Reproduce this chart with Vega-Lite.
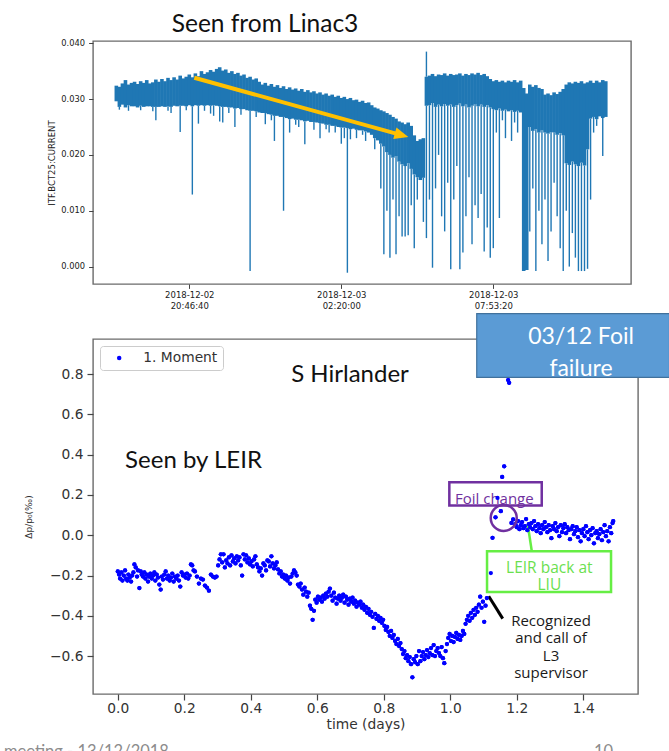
{
  "$schema": "https://vega.github.io/schema/vega-lite/v6.json",
  "usermeta": {"embedOptions": {"actions": false}},
  "background": "white",
  "padding": {"left": 3, "top": 11, "right": 0, "bottom": 0},
  "bounds": "flush",
  "spacing": 55,
  "resolve": {"legend": {"color": "independent"}},
  "config": {
    "view": {"stroke": "#6b6b6b", "strokeWidth": 1.4},
    "axis": {
      "domain": false, "grid": false,
      "labelFont": "DejaVu Sans", "titleFont": "DejaVu Sans", "titleFontWeight": "normal",
      "tickColor": "#444444", "labelColor": "#333333", "titleColor": "#333333"
    }
  },
  "vconcat": [
    {
      "width": 538,
      "height": 243,
      "data": {"values": [
        {"t":"2018-12-02T18:06:40Z","hi":0.0324,"lo":0.0296},
        {"t":"2018-12-02T18:13:20Z","hi":0.0322,"lo":0.0286,"dip":0.0281},
        {"t":"2018-12-02T18:20:00Z","hi":0.0328,"lo":0.0290},
        {"t":"2018-12-02T18:26:40Z","hi":0.0334,"lo":0.0285},
        {"t":"2018-12-02T18:33:20Z","hi":0.0326,"lo":0.0289,"dip":0.0279},
        {"t":"2018-12-02T18:40:00Z","hi":0.0329,"lo":0.0287},
        {"t":"2018-12-02T18:46:40Z","hi":0.0331,"lo":0.0287},
        {"t":"2018-12-02T18:53:20Z","hi":0.0327,"lo":0.0285},
        {"t":"2018-12-02T19:00:00Z","hi":0.0332,"lo":0.0288,"dip":0.0280},
        {"t":"2018-12-02T19:06:40Z","hi":0.0329,"lo":0.0286},
        {"t":"2018-12-02T19:13:20Z","hi":0.0334,"lo":0.0287},
        {"t":"2018-12-02T19:20:00Z","hi":0.0328,"lo":0.0287},
        {"t":"2018-12-02T19:26:40Z","hi":0.0330,"lo":0.0286,"dip":0.0278},
        {"t":"2018-12-02T19:33:20Z","hi":0.0335,"lo":0.0286,"dip":0.0262},
        {"t":"2018-12-02T19:40:00Z","hi":0.0331,"lo":0.0286},
        {"t":"2018-12-02T19:46:40Z","hi":0.0336,"lo":0.0287},
        {"t":"2018-12-02T19:53:20Z","hi":0.0332,"lo":0.0286},
        {"t":"2018-12-02T20:00:00Z","hi":0.0338,"lo":0.0287,"dip":0.0279},
        {"t":"2018-12-02T20:06:40Z","hi":0.0334,"lo":0.0286,"dip":0.0275},
        {"t":"2018-12-02T20:13:20Z","hi":0.0339,"lo":0.0288},
        {"t":"2018-12-02T20:20:00Z","hi":0.0335,"lo":0.0287},
        {"t":"2018-12-02T20:26:40Z","hi":0.0342,"lo":0.0288,"dip":0.0241},
        {"t":"2018-12-02T20:33:20Z","hi":0.0337,"lo":0.0288},
        {"t":"2018-12-02T20:40:00Z","hi":0.0340,"lo":0.0287,"dip":0.0280},
        {"t":"2018-12-02T20:46:40Z","hi":0.0344,"lo":0.0289},
        {"t":"2018-12-02T20:53:20Z","hi":0.0339,"lo":0.0287,"dip":0.0129},
        {"t":"2018-12-02T21:00:00Z","hi":0.0346,"lo":0.0289},
        {"t":"2018-12-02T21:06:40Z","hi":0.0341,"lo":0.0288,"dip":0.0256},
        {"t":"2018-12-02T21:13:20Z","hi":0.0350,"lo":0.0289},
        {"t":"2018-12-02T21:20:00Z","hi":0.0345,"lo":0.0288,"dip":0.0279},
        {"t":"2018-12-02T21:26:40Z","hi":0.0348,"lo":0.0289},
        {"t":"2018-12-02T21:33:20Z","hi":0.0352,"lo":0.0288,"dip":0.0274},
        {"t":"2018-12-02T21:40:00Z","hi":0.0349,"lo":0.0289,"dip":0.0270},
        {"t":"2018-12-02T21:46:40Z","hi":0.0354,"lo":0.0288},
        {"t":"2018-12-02T21:53:20Z","hi":0.0357,"lo":0.0287,"dip":0.0260},
        {"t":"2018-12-02T22:00:00Z","hi":0.0351,"lo":0.0286,"dip":0.0258},
        {"t":"2018-12-02T22:06:40Z","hi":0.0353,"lo":0.0286},
        {"t":"2018-12-02T22:13:20Z","hi":0.0347,"lo":0.0285,"dip":0.0275},
        {"t":"2018-12-02T22:20:00Z","hi":0.0350,"lo":0.0285},
        {"t":"2018-12-02T22:26:40Z","hi":0.0345,"lo":0.0283,"dip":0.0250},
        {"t":"2018-12-02T22:33:20Z","hi":0.0347,"lo":0.0284},
        {"t":"2018-12-02T22:40:00Z","hi":0.0342,"lo":0.0282,"dip":0.0272},
        {"t":"2018-12-02T22:46:40Z","hi":0.0344,"lo":0.0282},
        {"t":"2018-12-02T22:53:20Z","hi":0.0338,"lo":0.0280},
        {"t":"2018-12-02T23:00:00Z","hi":0.0340,"lo":0.0279,"dip":-0.0008},
        {"t":"2018-12-02T23:06:40Z","hi":0.0335,"lo":0.0279},
        {"t":"2018-12-02T23:13:20Z","hi":0.0337,"lo":0.0278,"dip":0.0268},
        {"t":"2018-12-02T23:20:00Z","hi":0.0331,"lo":0.0276},
        {"t":"2018-12-02T23:26:40Z","hi":0.0326,"lo":0.0275},
        {"t":"2018-12-02T23:33:20Z","hi":0.0329,"lo":0.0275,"dip":0.0255},
        {"t":"2018-12-02T23:40:00Z","hi":0.0324,"lo":0.0273},
        {"t":"2018-12-02T23:46:40Z","hi":0.0327,"lo":0.0272,"dip":0.0262},
        {"t":"2018-12-02T23:53:20Z","hi":0.0322,"lo":0.0270,"dip":0.0225},
        {"t":"2018-12-03T00:00:00Z","hi":0.0325,"lo":0.0270},
        {"t":"2018-12-03T00:06:40Z","hi":0.0320,"lo":0.0268},
        {"t":"2018-12-03T00:13:20Z","hi":0.0323,"lo":0.0268,"dip":0.0100},
        {"t":"2018-12-03T00:20:00Z","hi":0.0318,"lo":0.0266},
        {"t":"2018-12-03T00:26:40Z","hi":0.0321,"lo":0.0264,"dip":0.0240},
        {"t":"2018-12-03T00:33:20Z","hi":0.0317,"lo":0.0265},
        {"t":"2018-12-03T00:40:00Z","hi":0.0319,"lo":0.0263,"dip":0.0254},
        {"t":"2018-12-03T00:46:40Z","hi":0.0315,"lo":0.0263,"dip":0.0250},
        {"t":"2018-12-03T00:53:20Z","hi":0.0318,"lo":0.0262},
        {"t":"2018-12-03T01:00:00Z","hi":0.0313,"lo":0.0260,"dip":0.0219},
        {"t":"2018-12-03T01:06:40Z","hi":0.0316,"lo":0.0261},
        {"t":"2018-12-03T01:13:20Z","hi":0.0312,"lo":0.0259},
        {"t":"2018-12-03T01:20:00Z","hi":0.0314,"lo":0.0259,"dip":0.0245},
        {"t":"2018-12-03T01:26:40Z","hi":0.0310,"lo":0.0258},
        {"t":"2018-12-03T01:33:20Z","hi":0.0312,"lo":0.0257,"dip":0.0230},
        {"t":"2018-12-03T01:40:00Z","hi":0.0308,"lo":0.0256},
        {"t":"2018-12-03T01:46:40Z","hi":0.0310,"lo":0.0254,"dip":0.0246},
        {"t":"2018-12-03T01:53:20Z","hi":0.0306,"lo":0.0254,"dip":0.0240},
        {"t":"2018-12-03T02:00:00Z","hi":0.0308,"lo":0.0252},
        {"t":"2018-12-03T02:06:40Z","hi":0.0304,"lo":0.0252,"dip":0.0240},
        {"t":"2018-12-03T02:13:20Z","hi":0.0306,"lo":0.0250},
        {"t":"2018-12-03T02:20:00Z","hi":0.0302,"lo":0.0249,"dip":0.0220},
        {"t":"2018-12-03T02:26:40Z","hi":0.0304,"lo":0.0249,"dip":0.0230},
        {"t":"2018-12-03T02:33:20Z","hi":0.0300,"lo":0.0248,"dip":-0.0011},
        {"t":"2018-12-03T02:40:00Z","hi":0.0302,"lo":0.0246,"dip":0.0228},
        {"t":"2018-12-03T02:46:40Z","hi":0.0298,"lo":0.0247},
        {"t":"2018-12-03T02:53:20Z","hi":0.0299,"lo":0.0245,"dip":0.0230},
        {"t":"2018-12-03T03:00:00Z","hi":0.0295,"lo":0.0244},
        {"t":"2018-12-03T03:06:40Z","hi":0.0297,"lo":0.0244,"dip":0.0236},
        {"t":"2018-12-03T03:13:20Z","hi":0.0293,"lo":0.0242,"dip":0.0225},
        {"t":"2018-12-03T03:20:00Z","hi":0.0294,"lo":0.0240},
        {"t":"2018-12-03T03:26:40Z","hi":0.0289,"lo":0.0236},
        {"t":"2018-12-03T03:33:20Z","hi":0.0285,"lo":0.0230,"dip":0.0210},
        {"t":"2018-12-03T03:40:00Z","hi":0.0283,"lo":0.0226},
        {"t":"2018-12-03T03:46:40Z","hi":0.0280,"lo":0.0220,"dip":0.0140},
        {"t":"2018-12-03T03:53:20Z","hi":0.0278,"lo":0.0215,"dip":0.0022},
        {"t":"2018-12-03T04:00:00Z","hi":0.0275,"lo":0.0205,"dip":0.0100},
        {"t":"2018-12-03T04:06:40Z","hi":0.0272,"lo":0.0200,"dip":0.0016},
        {"t":"2018-12-03T04:13:20Z","hi":0.0268,"lo":0.0195,"dip":0.0120},
        {"t":"2018-12-03T04:20:00Z","hi":0.0265,"lo":0.0198,"dip":0.0022},
        {"t":"2018-12-03T04:26:40Z","hi":0.0260,"lo":0.0188,"dip":0.0090},
        {"t":"2018-12-03T04:33:20Z","hi":0.0258,"lo":0.0183,"dip":0.0054},
        {"t":"2018-12-03T04:40:00Z","hi":0.0255,"lo":0.0180,"dip":0.0054},
        {"t":"2018-12-03T04:46:40Z","hi":0.0258,"lo":0.0185,"dip":0.0056},
        {"t":"2018-12-03T04:53:20Z","hi":0.0252,"lo":0.0175,"dip":0.0110},
        {"t":"2018-12-03T05:00:00Z","hi":0.0235,"lo":0.0165,"dip":0.0033},
        {"t":"2018-12-03T05:06:40Z","hi":0.0225,"lo":0.0160,"dip":0.0120},
        {"t":"2018-12-03T05:13:20Z","hi":0.0228,"lo":0.0155},
        {"t":"2018-12-03T05:20:00Z","hi":0.0230,"lo":0.0159,"dip":0.0080},
        {"t":"2018-12-03T05:26:40Z","hi":0.0340,"lo":0.0288,"dip":0.0051,"peak":0.0385},
        {"t":"2018-12-03T05:33:20Z","hi":0.0342,"lo":0.0289,"dip":0.0120},
        {"t":"2018-12-03T05:40:00Z","hi":0.0345,"lo":0.0293,"dip":-0.0002},
        {"t":"2018-12-03T05:46:40Z","hi":0.0341,"lo":0.0286,"dip":0.0140},
        {"t":"2018-12-03T05:53:20Z","hi":0.0344,"lo":0.0290,"dip":0.0200},
        {"t":"2018-12-03T06:00:00Z","hi":0.0343,"lo":0.0287,"dip":0.0090},
        {"t":"2018-12-03T06:06:40Z","hi":0.0346,"lo":0.0291,"dip":0.0063},
        {"t":"2018-12-03T06:13:20Z","hi":0.0342,"lo":0.0288,"dip":0.0150},
        {"t":"2018-12-03T06:20:00Z","hi":0.0345,"lo":0.0290,"dip":-0.0005},
        {"t":"2018-12-03T06:26:40Z","hi":0.0343,"lo":0.0286,"dip":0.0120},
        {"t":"2018-12-03T06:33:20Z","hi":0.0344,"lo":0.0289,"dip":0.0180},
        {"t":"2018-12-03T06:40:00Z","hi":0.0346,"lo":0.0292,"dip":-0.0005},
        {"t":"2018-12-03T06:46:40Z","hi":0.0342,"lo":0.0287,"dip":0.0025},
        {"t":"2018-12-03T06:53:20Z","hi":0.0345,"lo":0.0290,"dip":0.0090},
        {"t":"2018-12-03T07:00:00Z","hi":0.0343,"lo":0.0285,"dip":0.0160},
        {"t":"2018-12-03T07:06:40Z","hi":0.0346,"lo":0.0288,"dip":0.0040},
        {"t":"2018-12-03T07:13:20Z","hi":0.0344,"lo":0.0291,"dip":0.0110},
        {"t":"2018-12-03T07:20:00Z","hi":0.0347,"lo":0.0287,"dip":0.0087},
        {"t":"2018-12-03T07:26:40Z","hi":0.0343,"lo":0.0290,"dip":0.0130},
        {"t":"2018-12-03T07:33:20Z","hi":0.0345,"lo":0.0286,"dip":0.0027},
        {"t":"2018-12-03T07:40:00Z","hi":0.0341,"lo":0.0289,"dip":0.0070},
        {"t":"2018-12-03T07:46:40Z","hi":0.0336,"lo":0.0285,"dip":0.0016},
        {"t":"2018-12-03T07:53:20Z","hi":0.0332,"lo":0.0282,"dip":0.0033},
        {"t":"2018-12-03T08:00:00Z","hi":0.0334,"lo":0.0280,"dip":0.0240},
        {"t":"2018-12-03T08:06:40Z","hi":0.0331,"lo":0.0283,"dip":0.0087},
        {"t":"2018-12-03T08:13:20Z","hi":0.0333,"lo":0.0279,"dip":0.0262},
        {"t":"2018-12-03T08:20:00Z","hi":0.0330,"lo":0.0281,"dip":0.0230},
        {"t":"2018-12-03T08:26:40Z","hi":0.0333,"lo":0.0278},
        {"t":"2018-12-03T08:33:20Z","hi":0.0331,"lo":0.0280,"dip":0.0225},
        {"t":"2018-12-03T08:40:00Z","hi":0.0334,"lo":0.0277,"dip":0.0258},
        {"t":"2018-12-03T08:46:40Z","hi":0.0330,"lo":0.0279,"dip":0.0240},
        {"t":"2018-12-03T08:53:20Z","hi":0.0333,"lo":0.0276},
        {"t":"2018-12-03T09:00:00Z","hi":0.0320,"lo":-0.0008},
        {"t":"2018-12-03T09:06:40Z","hi":0.0310,"lo":-0.0006},
        {"t":"2018-12-03T09:13:20Z","hi":0.0326,"lo":0.0250,"dip":0.0063},
        {"t":"2018-12-03T09:20:00Z","hi":0.0322,"lo":0.0243,"dip":0.0140},
        {"t":"2018-12-03T09:26:40Z","hi":0.0325,"lo":0.0246,"dip":-0.0008},
        {"t":"2018-12-03T09:33:20Z","hi":0.0320,"lo":0.0240,"dip":0.0100},
        {"t":"2018-12-03T09:40:00Z","hi":0.0318,"lo":0.0244,"dip":0.0040},
        {"t":"2018-12-03T09:46:40Z","hi":0.0308,"lo":0.0240,"dip":0.0120},
        {"t":"2018-12-03T09:53:20Z","hi":0.0310,"lo":0.0238,"dip":0.0010},
        {"t":"2018-12-03T10:00:00Z","hi":0.0307,"lo":0.0241,"dip":0.0063},
        {"t":"2018-12-03T10:06:40Z","hi":0.0312,"lo":0.0240,"dip":0.0150},
        {"t":"2018-12-03T10:13:20Z","hi":0.0309,"lo":0.0236,"dip":0.0090},
        {"t":"2018-12-03T10:20:00Z","hi":0.0313,"lo":0.0239,"dip":0.0033},
        {"t":"2018-12-03T10:26:40Z","hi":0.0318,"lo":0.0235,"dip":-0.0008},
        {"t":"2018-12-03T10:33:20Z","hi":0.0326,"lo":0.0185,"dip":0.0100},
        {"t":"2018-12-03T10:40:00Z","hi":0.0330,"lo":0.0182,"dip":0.0000},
        {"t":"2018-12-03T10:46:40Z","hi":0.0328,"lo":0.0188,"dip":0.0060},
        {"t":"2018-12-03T10:53:20Z","hi":0.0331,"lo":0.0183,"dip":0.0016},
        {"t":"2018-12-03T11:00:00Z","hi":0.0329,"lo":0.0180,"dip":-0.0008},
        {"t":"2018-12-03T11:06:40Z","hi":0.0332,"lo":0.0186,"dip":-0.0008},
        {"t":"2018-12-03T11:13:20Z","hi":0.0328,"lo":0.0181,"dip":-0.0008},
        {"t":"2018-12-03T11:20:00Z","hi":0.0330,"lo":0.0210,"dip":-0.0004},
        {"t":"2018-12-03T11:26:40Z","hi":0.0333,"lo":0.0265,"dip":0.0120},
        {"t":"2018-12-03T11:33:20Z","hi":0.0329,"lo":0.0268,"dip":0.0240},
        {"t":"2018-12-03T11:40:00Z","hi":0.0333,"lo":0.0264,"dip":0.0252},
        {"t":"2018-12-03T11:46:40Z","hi":0.0330,"lo":0.0269},
        {"t":"2018-12-03T11:53:20Z","hi":0.0334,"lo":0.0266,"dip":0.0198},
        {"t":"2018-12-03T12:00:00Z","hi":0.0332,"lo":0.0268}
      ]},
      "layer": [
        {
          "mark": {"type": "rule", "color": "#1f77b4", "strokeWidth": 3.6},
          "encoding": {
            "x": {
              "field": "t", "type": "temporal",
              "scale": {"type": "utc", "domain": [
                {"year": 2018, "month": 12, "date": 2, "hours": 17, "minutes": 15, "seconds": 29, "utc": true},
                {"year": 2018, "month": 12, "date": 3, "hours": 12, "minutes": 55, "seconds": 18, "utc": true}
              ]},
              "axis": {
                "title": null,
                "values": [
                  {"year": 2018, "month": 12, "date": 2, "hours": 20, "minutes": 46, "seconds": 40, "utc": true},
                  {"year": 2018, "month": 12, "date": 3, "hours": 2, "minutes": 20, "seconds": 0, "utc": true},
                  {"year": 2018, "month": 12, "date": 3, "hours": 7, "minutes": 53, "seconds": 20, "utc": true}
                ],
                "labelExpr": "[utcFormat(datum.value, '%Y-%m-%d'), utcFormat(datum.value, '%H:%M:%S')]",
                "labelFontSize": 8.5, "labelLineHeight": 10.7, "labelPadding": 2,
                "tickSize": 4.4, "labelFlush": false, "labelOverlap": false, "labelColor": "#1a1a1a"
              }
            },
            "y": {
              "field": "hi", "type": "quantitative",
              "scale": {"domain": [-0.00312, 0.0404], "nice": false, "zero": false},
              "axis": {
                "title": "ITF.BCT25:CURRENT", "titleFontSize": 8.5, "titlePadding": 4,
                "values": [0, 0.005, 0.01, 0.015, 0.02, 0.025, 0.03, 0.035, 0.04],
                "format": ".3f", "labelFontSize": 8.3, "labelPadding": 4, "tickSize": 4.4,
                "labelColor": "#1a1a1a", "titleColor": "#1a1a1a"
              }
            },
            "y2": {"field": "lo"}
          }
        },
        {
          "transform": [{"filter": "isValid(datum.dip)"}],
          "mark": {"type": "rule", "color": "#1f77b4", "strokeWidth": 1.4},
          "encoding": {
            "x": {"field": "t", "type": "temporal"},
            "y": {"field": "lo", "type": "quantitative"},
            "y2": {"field": "dip"}
          }
        },
        {
          "transform": [{"filter": "isValid(datum.peak)"}],
          "mark": {"type": "rule", "color": "#1f77b4", "strokeWidth": 1.4},
          "encoding": {
            "x": {"field": "t", "type": "temporal"},
            "y": {"field": "hi", "type": "quantitative"},
            "y2": {"field": "peak"}
          }
        },
        {
          "data": {"values": [{}]},
          "mark": {"type": "rule", "color": "#ffc000", "strokeWidth": 4},
          "encoding": {
            "x": {"datum": {"year": 2018, "month": 12, "date": 2, "hours": 20, "minutes": 57, "seconds": 38, "utc": true}, "type": "temporal"},
            "y": {"datum": 0.03382, "type": "quantitative"},
            "x2": {"datum": {"year": 2018, "month": 12, "date": 3, "hours": 4, "minutes": 32, "seconds": 14, "utc": true}},
            "y2": {"datum": 0.02353}
          }
        },
        {
          "data": {"values": [{}]},
          "mark": {"type": "point", "shape": "M-1,-0.85L1,0L-1,0.85Z", "size": 196, "angle": 15.6, "filled": true, "color": "#ffc000", "opacity": 1},
          "encoding": {
            "x": {"datum": {"year": 2018, "month": 12, "date": 3, "hours": 4, "minutes": 32, "seconds": 14, "utc": true}, "type": "temporal"},
            "y": {"datum": 0.02353, "type": "quantitative"}
          }
        },
        {
          "data": {"values": [{}]},
          "mark": {"type": "text", "text": "Seen from Linac3", "font": "Lato", "fontSize": 24.5, "color": "#111111", "align": "center", "baseline": "alphabetic"},
          "encoding": {
            "x": {"datum": {"year": 2018, "month": 12, "date": 2, "hours": 23, "minutes": 32, "seconds": 41, "utc": true}, "type": "temporal"},
            "y": {"datum": 0.04201, "type": "quantitative"}
          }
        }
      ]
    },
    {
      "width": 545,
      "height": 355,
      "data": {"values": [
        {"t":0.000,"m":-0.180},{"t":0.004,"m":-0.195},{"t":0.007,"m":-0.215},{"t":0.011,"m":-0.185},
        {"t":0.014,"m":-0.225},{"t":0.018,"m":-0.200},{"t":0.022,"m":-0.175},{"t":0.025,"m":-0.215},
        {"t":0.029,"m":-0.225},{"t":0.032,"m":-0.195},{"t":0.036,"m":-0.210},{"t":0.040,"m":-0.230},
        {"t":0.043,"m":-0.200},{"t":0.047,"m":-0.185},{"t":0.050,"m":-0.145},{"t":0.054,"m":-0.160},
        {"t":0.058,"m":-0.205},{"t":0.061,"m":-0.175},{"t":0.065,"m":-0.262},{"t":0.069,"m":-0.180},
        {"t":0.072,"m":-0.195},{"t":0.076,"m":-0.205},{"t":0.080,"m":-0.185},{"t":0.083,"m":-0.215},
        {"t":0.087,"m":-0.195},{"t":0.091,"m":-0.230},{"t":0.094,"m":-0.205},{"t":0.098,"m":-0.190},
        {"t":0.102,"m":-0.215},{"t":0.106,"m":-0.200},{"t":0.110,"m":-0.185},{"t":0.113,"m":-0.225},
        {"t":0.117,"m":-0.195},{"t":0.121,"m":-0.210},{"t":0.125,"m":-0.245},{"t":0.129,"m":-0.270},
        {"t":0.132,"m":-0.205},{"t":0.136,"m":-0.220},{"t":0.140,"m":-0.195},{"t":0.144,"m":-0.180},
        {"t":0.148,"m":-0.215},{"t":0.152,"m":-0.200},{"t":0.156,"m":-0.225},{"t":0.160,"m":-0.210},
        {"t":0.164,"m":-0.190},{"t":0.168,"m":-0.230},{"t":0.172,"m":-0.205},{"t":0.176,"m":-0.215},
        {"t":0.180,"m":-0.200},{"t":0.184,"m":-0.225},{"t":0.188,"m":-0.255},{"t":0.192,"m":-0.185},
        {"t":0.196,"m":-0.200},{"t":0.200,"m":-0.195},{"t":0.204,"m":-0.210},{"t":0.208,"m":-0.190},
        {"t":0.212,"m":-0.215},{"t":0.216,"m":-0.200},{"t":0.220,"m":-0.145},{"t":0.224,"m":-0.150},
        {"t":0.228,"m":-0.175},{"t":0.232,"m":-0.180},{"t":0.238,"m":-0.205},{"t":0.244,"m":-0.240},
        {"t":0.250,"m":-0.215},{"t":0.256,"m":-0.220},{"t":0.262,"m":-0.250},{"t":0.268,"m":-0.260},
        {"t":0.274,"m":-0.275},{"t":0.280,"m":-0.195},{"t":0.286,"m":-0.205},{"t":0.292,"m":-0.210},
        {"t":0.297,"m":-0.205},
        {"t":0.302,"m":-0.150},{"t":0.306,"m":-0.120},{"t":0.310,"m":-0.095},{"t":0.314,"m":-0.135},
        {"t":0.318,"m":-0.095},{"t":0.322,"m":-0.160},{"t":0.326,"m":-0.125},{"t":0.330,"m":-0.140},
        {"t":0.334,"m":-0.110},{"t":0.338,"m":-0.150},{"t":0.342,"m":-0.100},{"t":0.346,"m":-0.130},
        {"t":0.350,"m":-0.115},{"t":0.354,"m":-0.140},{"t":0.358,"m":-0.105},{"t":0.362,"m":-0.125},
        {"t":0.366,"m":-0.110},{"t":0.370,"m":-0.150},{"t":0.374,"m":-0.200},{"t":0.378,"m":-0.095},
        {"t":0.382,"m":-0.120},{"t":0.386,"m":-0.100},{"t":0.390,"m":-0.135},{"t":0.394,"m":-0.115},
        {"t":0.398,"m":-0.145},{"t":0.402,"m":-0.130},{"t":0.406,"m":-0.155},{"t":0.410,"m":-0.120},
        {"t":0.414,"m":-0.105},{"t":0.418,"m":-0.145},{"t":0.422,"m":-0.160},{"t":0.426,"m":-0.180},
        {"t":0.430,"m":-0.165},{"t":0.434,"m":-0.200},{"t":0.438,"m":-0.140},{"t":0.442,"m":-0.150},
        {"t":0.446,"m":-0.175},{"t":0.450,"m":-0.125},{"t":0.454,"m":-0.130},{"t":0.458,"m":-0.155},
        {"t":0.462,"m":-0.105},{"t":0.466,"m":-0.140},{"t":0.470,"m":-0.165},{"t":0.474,"m":-0.150},
        {"t":0.478,"m":-0.135},{"t":0.482,"m":-0.170},{"t":0.486,"m":-0.190},{"t":0.490,"m":-0.180},
        {"t":0.494,"m":-0.205},{"t":0.498,"m":-0.195},
        {"t":0.502,"m":-0.215},{"t":0.506,"m":-0.200},{"t":0.510,"m":-0.225},{"t":0.514,"m":-0.210},
        {"t":0.518,"m":-0.240},{"t":0.522,"m":-0.205},{"t":0.526,"m":-0.190},{"t":0.530,"m":-0.175},
        {"t":0.534,"m":-0.185},{"t":0.538,"m":-0.200},{"t":0.542,"m":-0.245},{"t":0.546,"m":-0.255},
        {"t":0.550,"m":-0.240},{"t":0.554,"m":-0.270},{"t":0.558,"m":-0.295},{"t":0.562,"m":-0.260},
        {"t":0.566,"m":-0.280},{"t":0.570,"m":-0.305},{"t":0.574,"m":-0.285},{"t":0.578,"m":-0.350},
        {"t":0.582,"m":-0.365},{"t":0.586,"m":-0.420},{"t":0.590,"m":-0.375},{"t":0.594,"m":-0.320},
        {"t":0.598,"m":-0.335},{"t":0.602,"m":-0.305},{"t":0.606,"m":-0.320},{"t":0.610,"m":-0.310},
        {"t":0.614,"m":-0.330},{"t":0.618,"m":-0.300},{"t":0.622,"m":-0.315},{"t":0.626,"m":-0.290},
        {"t":0.630,"m":-0.305},{"t":0.634,"m":-0.280},{"t":0.638,"m":-0.265},{"t":0.642,"m":-0.300},
        {"t":0.646,"m":-0.325},{"t":0.650,"m":-0.285},{"t":0.654,"m":-0.310},{"t":0.658,"m":-0.340},
        {"t":0.662,"m":-0.315},
        {"t":0.666,"m":-0.300},{"t":0.670,"m":-0.325},{"t":0.674,"m":-0.310},{"t":0.678,"m":-0.295},
        {"t":0.682,"m":-0.335},{"t":0.686,"m":-0.305},{"t":0.690,"m":-0.320},{"t":0.694,"m":-0.345},
        {"t":0.698,"m":-0.315},{"t":0.702,"m":-0.330},{"t":0.706,"m":-0.310},{"t":0.710,"m":-0.340},
        {"t":0.714,"m":-0.325},{"t":0.718,"m":-0.355},{"t":0.722,"m":-0.335},{"t":0.726,"m":-0.345},
        {"t":0.730,"m":-0.330},{"t":0.734,"m":-0.360},{"t":0.738,"m":-0.345},{"t":0.742,"m":-0.370},
        {"t":0.746,"m":-0.355},{"t":0.750,"m":-0.385},{"t":0.754,"m":-0.365},{"t":0.758,"m":-0.395},
        {"t":0.762,"m":-0.380},{"t":0.766,"m":-0.405},{"t":0.770,"m":-0.460},{"t":0.774,"m":-0.390},
        {"t":0.778,"m":-0.415},{"t":0.782,"m":-0.400},{"t":0.786,"m":-0.425},{"t":0.790,"m":-0.410},
        {"t":0.794,"m":-0.435},{"t":0.798,"m":-0.420},
        {"t":0.802,"m":-0.450},{"t":0.806,"m":-0.470},{"t":0.810,"m":-0.455},{"t":0.814,"m":-0.480},
        {"t":0.818,"m":-0.500},{"t":0.822,"m":-0.475},{"t":0.826,"m":-0.510},{"t":0.830,"m":-0.495},
        {"t":0.834,"m":-0.525},{"t":0.838,"m":-0.540},{"t":0.842,"m":-0.515},{"t":0.846,"m":-0.550},
        {"t":0.850,"m":-0.535},{"t":0.854,"m":-0.565},{"t":0.858,"m":-0.590},{"t":0.862,"m":-0.575},
        {"t":0.866,"m":-0.610},{"t":0.870,"m":-0.595},{"t":0.874,"m":-0.625},{"t":0.878,"m":-0.605},
        {"t":0.882,"m":-0.640},{"t":0.886,"m":-0.705},{"t":0.890,"m":-0.615},{"t":0.894,"m":-0.630},
        {"t":0.898,"m":-0.600},{"t":0.902,"m":-0.640},{"t":0.906,"m":-0.575},{"t":0.910,"m":-0.625},
        {"t":0.914,"m":-0.600},{"t":0.918,"m":-0.580},{"t":0.922,"m":-0.615},{"t":0.926,"m":-0.595},
        {"t":0.930,"m":-0.570},{"t":0.934,"m":-0.605},{"t":0.938,"m":-0.585},{"t":0.942,"m":-0.560},
        {"t":0.946,"m":-0.595},{"t":0.950,"m":-0.545},{"t":0.954,"m":-0.600},{"t":0.958,"m":-0.575},
        {"t":0.962,"m":-0.560},{"t":0.966,"m":-0.585},{"t":0.970,"m":-0.600},{"t":0.974,"m":-0.555},
        {"t":0.978,"m":-0.610},{"t":0.982,"m":-0.635},{"t":0.986,"m":-0.575},{"t":0.990,"m":-0.540},
        {"t":0.994,"m":-0.510},{"t":0.998,"m":-0.490},{"t":1.002,"m":-0.525},{"t":1.006,"m":-0.500},
        {"t":1.010,"m":-0.530},{"t":1.014,"m":-0.505},{"t":1.018,"m":-0.485},{"t":1.022,"m":-0.515},
        {"t":1.026,"m":-0.495},{"t":1.030,"m":-0.520},{"t":1.034,"m":-0.500},{"t":1.038,"m":-0.475},
        {"t":1.042,"m":-0.490},{"t":1.046,"m":-0.440},{"t":1.050,"m":-0.420},{"t":1.054,"m":-0.400},
        {"t":1.058,"m":-0.425},{"t":1.062,"m":-0.385},{"t":1.066,"m":-0.410},{"t":1.070,"m":-0.370},
        {"t":1.074,"m":-0.395},{"t":1.078,"m":-0.360},{"t":1.082,"m":-0.380},{"t":1.086,"m":-0.345},
        {"t":1.090,"m":-0.305},{"t":1.094,"m":-0.360},{"t":1.098,"m":-0.330},{"t":1.102,"m":-0.430},
        {"t":1.106,"m":-0.350},{"t":1.110,"m":-0.312},{"t":1.122,"m":-0.188},{"t":1.127,"m":-0.013},
        {"t":1.136,"m":0.089},{"t":1.142,"m":0.185},{"t":1.152,"m":0.119},{"t":1.156,"m":0.289},
        {"t":1.162,"m":0.342},{"t":1.172,"m":0.885},{"t":1.174,"m":0.770},{"t":1.177,"m":0.756},
        {"t":1.184,"m":0.061},{"t":1.189,"m":0.078},
        {"t":1.196,"m":0.055},{"t":1.200,"m":0.040},{"t":1.204,"m":0.070},{"t":1.208,"m":0.030},
        {"t":1.212,"m":0.050},{"t":1.216,"m":0.065},{"t":1.220,"m":0.035},{"t":1.224,"m":0.045},
        {"t":1.228,"m":0.080},{"t":1.232,"m":0.025},{"t":1.236,"m":0.055},{"t":1.240,"m":0.040},
        {"t":1.244,"m":0.060},{"t":1.248,"m":0.030},{"t":1.252,"m":0.070},{"t":1.256,"m":0.045},
        {"t":1.260,"m":0.020},{"t":1.264,"m":0.055},{"t":1.268,"m":0.035},{"t":1.272,"m":0.010},
        {"t":1.276,"m":0.050},{"t":1.280,"m":0.030},{"t":1.284,"m":0.065},{"t":1.288,"m":0.040},
        {"t":1.292,"m":0.015},{"t":1.296,"m":0.050},{"t":1.300,"m":0.025},{"t":1.304,"m":-0.015},
        {"t":1.308,"m":0.045},{"t":1.312,"m":0.030},{"t":1.316,"m":0.060},{"t":1.320,"m":0.020},
        {"t":1.324,"m":0.040},{"t":1.328,"m":-0.005},{"t":1.332,"m":0.050},{"t":1.336,"m":0.015},
        {"t":1.340,"m":0.035},{"t":1.344,"m":0.055},{"t":1.348,"m":0.010},{"t":1.352,"m":0.040},
        {"t":1.356,"m":0.025},{"t":1.360,"m":-0.020},{"t":1.364,"m":0.030},{"t":1.368,"m":0.045},
        {"t":1.372,"m":0.005},{"t":1.376,"m":0.020},{"t":1.380,"m":0.040},{"t":1.384,"m":-0.010},
        {"t":1.388,"m":0.025},{"t":1.392,"m":-0.030},{"t":1.396,"m":0.010},{"t":1.400,"m":0.030},
        {"t":1.404,"m":-0.005},{"t":1.408,"m":0.045},{"t":1.412,"m":0.015},{"t":1.416,"m":-0.020},
        {"t":1.420,"m":0.025},{"t":1.424,"m":0.000},{"t":1.428,"m":0.035},{"t":1.432,"m":-0.040},
        {"t":1.436,"m":0.010},{"t":1.440,"m":0.020},{"t":1.444,"m":-0.015},{"t":1.448,"m":0.005},
        {"t":1.452,"m":0.030},{"t":1.456,"m":-0.025},{"t":1.460,"m":0.015},{"t":1.464,"m":0.050},
        {"t":1.468,"m":-0.005},{"t":1.472,"m":0.020},{"t":1.476,"m":-0.030},{"t":1.480,"m":0.040},
        {"t":1.484,"m":0.010},{"t":1.488,"m":0.060},{"t":1.490,"m":0.070}
      ]},
      "layer": [
        {
          "mark": {"type": "point", "filled": true, "size": 18, "opacity": 1},
          "encoding": {
            "x": {
              "field": "t", "type": "quantitative",
              "scale": {"domain": [-0.0745, 1.5645], "nice": false, "zero": false},
              "axis": {
                "title": "time (days)", "titleFontSize": 13.8, "titlePadding": 3,
                "values": [0, 0.2, 0.4, 0.6, 0.8, 1.0, 1.2, 1.4], "format": ".1f",
                "labelFontSize": 13.8, "labelPadding": 1, "tickSize": 6, "tickWidth": 1.2
              }
            },
            "y": {
              "field": "m", "type": "quantitative",
              "scale": {"domain": [-0.788, 0.9737], "nice": false, "zero": false},
              "axis": {
                "title": "Δp/p₀(‰)", "titleFontSize": 9, "titlePadding": 16,
                "values": [-0.6, -0.4, -0.2, 0, 0.2, 0.4, 0.6, 0.8], "format": ".1f",
                "labelFontSize": 13.8, "labelPadding": 4, "tickSize": 6, "tickWidth": 1.2
              }
            },
            "color": {
              "datum": "1. Moment", "type": "nominal",
              "scale": {"range": ["#0000ff"]},
              "legend": {
                "title": null, "orient": "top-left", "offset": 6.6,
                "strokeColor": "#cccccc", "fillColor": "white", "cornerRadius": 3, "padding": 5,
                "labelFont": "DejaVu Sans", "labelFontSize": 13.8, "labelColor": "#333333",
                "symbolType": "circle", "symbolSize": 20, "symbolStrokeWidth": 0,
                "symbolOffset": 7.3, "labelOffset": 17.2
              }
            }
          }
        },
        {
          "data": {"values": [{}]},
          "mark": {"type": "rect", "fill": "white", "stroke": "#7030a0", "strokeWidth": 2.5},
          "encoding": {
            "x": {"datum": 0.9971, "type": "quantitative"},
            "x2": {"datum": 1.275},
            "y": {"datum": 0.2625, "type": "quantitative"},
            "y2": {"datum": 0.1469}
          }
        },
        {
          "data": {"values": [{}]},
          "mark": {"type": "rect", "fill": "white", "stroke": "#66ee44", "strokeWidth": 2.5},
          "encoding": {
            "x": {"datum": 1.1105, "type": "quantitative"},
            "x2": {"datum": 1.4834},
            "y": {"datum": -0.0799, "type": "quantitative"},
            "y2": {"datum": -0.2819}
          }
        },
        {
          "data": {"values": [{}]},
          "mark": {"type": "rule", "color": "#66ee44", "strokeWidth": 2.5},
          "encoding": {
            "x": {"datum": 1.2329, "type": "quantitative"},
            "y": {"datum": 0.0526, "type": "quantitative"},
            "x2": {"datum": 1.2449},
            "y2": {"datum": -0.077}
          }
        },
        {
          "data": {"values": [{}]},
          "mark": {"type": "rule", "color": "#000000", "strokeWidth": 3},
          "encoding": {
            "x": {"datum": 1.1156, "type": "quantitative"},
            "y": {"datum": -0.3032, "type": "quantitative"},
            "x2": {"datum": 1.1577},
            "y2": {"datum": -0.4139}
          }
        },
        {
          "data": {"values": [{}]},
          "mark": {"type": "text", "text": "Foil change", "font": "Open Sans", "fontSize": 15, "color": "#7030a0", "align": "center"},
          "encoding": {
            "x": {"datum": 1.1324, "type": "quantitative"},
            "y": {"datum": 0.1797, "type": "quantitative"}
          }
        },
        {
          "data": {"values": [{}]},
          "mark": {"type": "text", "text": ["LEIR back at", "LIU"], "font": "Open Sans", "fontSize": 15.5, "lineHeight": 17.3, "color": "#6be04f", "align": "center"},
          "encoding": {
            "x": {"datum": 1.2978, "type": "quantitative"},
            "y": {"datum": -0.1628, "type": "quantitative"}
          }
        },
        {
          "data": {"values": [{}]},
          "mark": {"type": "text", "text": ["Recognized", "and call of", "L3", "supervisor"], "font": "Open Sans", "fontSize": 15, "lineHeight": 17.6, "color": "#1a1a1a", "align": "center"},
          "encoding": {
            "x": {"datum": 1.3029, "type": "quantitative"},
            "y": {"datum": -0.4238, "type": "quantitative"}
          }
        },
        {
          "data": {"values": [{}]},
          "mark": {"type": "text", "text": "S Hirlander", "font": "Lato", "fontSize": 24, "color": "#111111", "align": "center"},
          "encoding": {
            "x": {"datum": 0.6984, "type": "quantitative"},
            "y": {"datum": 0.797, "type": "quantitative"}
          }
        },
        {
          "data": {"values": [{}]},
          "mark": {"type": "text", "text": "Seen by LEIR", "font": "Lato", "fontSize": 24, "color": "#111111", "align": "center"},
          "encoding": {
            "x": {"datum": 0.2278, "type": "quantitative"},
            "y": {"datum": 0.3702, "type": "quantitative"}
          }
        },
        {
          "data": {"values": [{}]},
          "mark": {"type": "text", "text": "meeting - 13/12/2018", "font": "Lato", "fontSize": 16.5, "color": "#8c8c8c", "align": "left"},
          "encoding": {
            "x": {"datum": -0.3422, "type": "quantitative"},
            "y": {"datum": -1.0759, "type": "quantitative"}
          }
        },
        {
          "data": {"values": [{}]},
          "mark": {"type": "text", "text": "10", "font": "Lato", "fontSize": 16.5, "color": "#8c8c8c", "align": "left"},
          "encoding": {
            "x": {"datum": 1.4323, "type": "quantitative"},
            "y": {"datum": -1.0759, "type": "quantitative"}
          }
        },
        {
          "mark": {"type": "point", "filled": true, "size": 18, "opacity": 1, "color": "#0000ff"},
          "encoding": {
            "x": {"field": "t", "type": "quantitative"},
            "y": {"field": "m", "type": "quantitative"}
          }
        },
        {
          "data": {"values": [{}]},
          "mark": {"type": "point", "shape": "circle", "size": 676, "filled": false, "stroke": "#7030a0", "strokeWidth": 2.5, "opacity": 1},
          "encoding": {
            "x": {"datum": 1.1607, "type": "quantitative"},
            "y": {"datum": 0.0854, "type": "quantitative"}
          }
        },
        {
          "data": {"values": [{}]},
          "mark": {"type": "rect", "fill": "#5b9bd5", "stroke": "#41719c", "strokeWidth": 1.2},
          "encoding": {
            "x": {"datum": 1.0795, "type": "quantitative"},
            "x2": {"datum": 1.6593},
            "y": {"datum": 1.0997, "type": "quantitative"},
            "y2": {"datum": 0.7836}
          }
        },
        {
          "data": {"values": [{}]},
          "mark": {"type": "text", "text": ["03/12 Foil", "failure"], "font": "Lato", "fontSize": 23, "lineHeight": 32, "color": "white", "align": "center"},
          "encoding": {
            "x": {"datum": 1.3932, "type": "quantitative"},
            "y": {"datum": 0.9821, "type": "quantitative"}
          }
        }
      ]
    }
  ]
}
